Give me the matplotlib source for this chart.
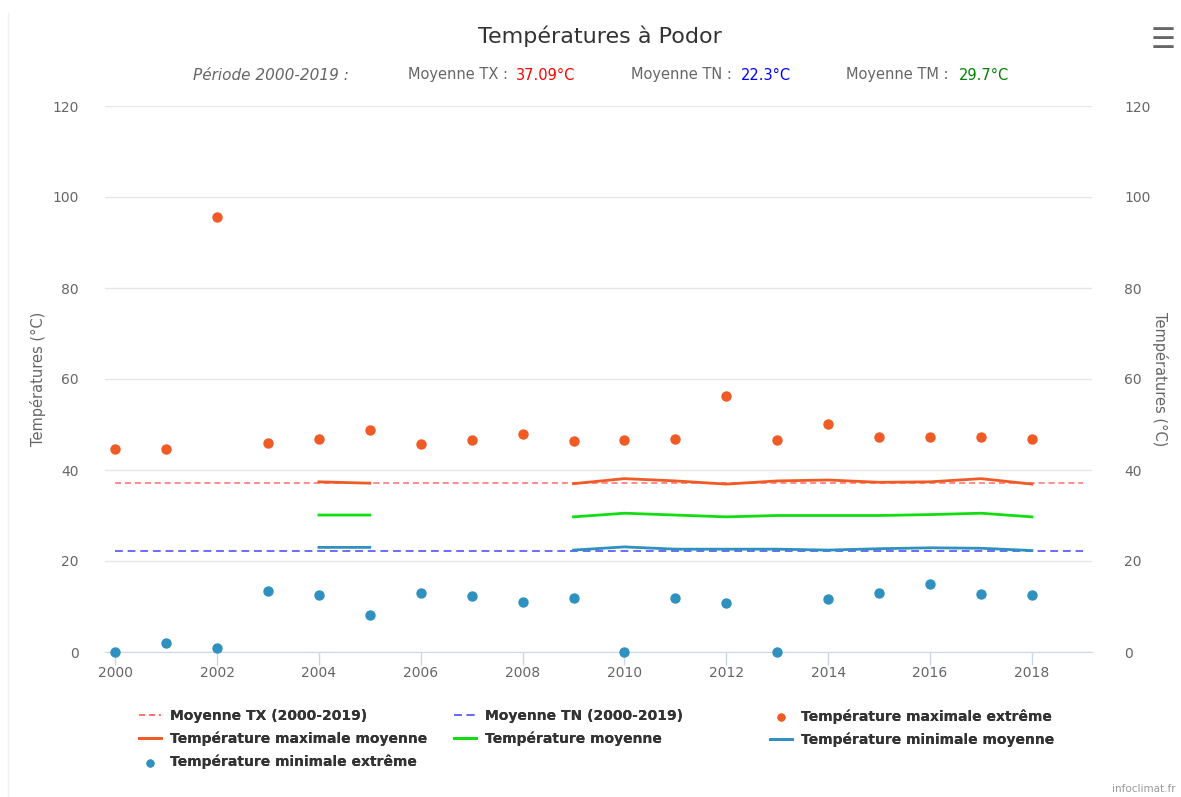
import numpy as np
import matplotlib
matplotlib.use('Agg')
import matplotlib.pyplot as plt
from matplotlib.lines import Line2D

# donnees
annees = list(range(2000, 2019))
tx_extreme = [44.6, 44.6, 95.6, 46.0, 46.8, 48.9, 45.7, 46.5, 48.0, 46.3,
              46.6, 46.8, 56.3, 46.6, 50.1, 47.3, 47.3, 47.3, 46.8]
tn_extreme = [0.0, 2.0, 0.9, 13.3, 12.5, 8.1, 13.0, 12.2, 11.0, 11.9,
              0.0, 11.9, 10.7, 0.0, 11.6, 13.0, 15.0, 12.7, 12.5]

# moyennes annuelles (trous = None)
tx_moy = [None, None, None, None, 37.4, 37.1, None, None, None, 37.0,
          38.1, 37.6, 36.9, 37.6, 37.8, 37.3, 37.4, 38.1, 36.9]
tm_moy = [None, None, None, None, 30.1, 30.1, None, None, None, 29.7,
          30.5, 30.1, 29.7, 30.0, 30.0, 30.0, 30.2, 30.5, 29.7]
tn_moy = [None, None, None, None, 23.0, 23.0, None, None, None, 22.4,
          23.1, 22.6, 22.6, 22.6, 22.4, 22.7, 22.9, 22.8, 22.3]

periode = [2000, 2019]
moyenne_tx = 37.09
moyenne_tn = 22.3
moyenne_tm = 29.7

c_max = '#f05a24'
c_min = '#2f91bf'
c_tm = '#11dd11'
c_tx_ref = '#ff6f6f'
c_tn_ref = '#6a6aff'
gris = '#666666'


def en_array(liste):
    return np.array([np.nan if v is None else v for v in liste], dtype=float)


fig = plt.figure(figsize=(11.81, 7.97), dpi=100)
ax = fig.add_axes([105 / 1181, 1 - 652 / 797, (1092 - 105) / 1181, (652 - 106) / 797])

x = np.array(annees)
h_txref, = ax.plot(periode, [moyenne_tx, moyenne_tx], color=c_tx_ref, lw=1.1,
                   ls=(0, (4, 2.5)), zorder=2)
h_tnref, = ax.plot(periode, [moyenne_tn, moyenne_tn], color=c_tn_ref, lw=1.4,
                   ls=(0, (4, 2.5)), zorder=2)
h_txmoy, = ax.plot(x, en_array(tx_moy), color=c_max, lw=2, zorder=3)
h_tm, = ax.plot(x, en_array(tm_moy), color=c_tm, lw=2, zorder=3)
h_tnmoy, = ax.plot(x, en_array(tn_moy), color=c_min, lw=2, zorder=3)
h_txext = ax.scatter(x, tx_extreme, s=42, color=c_max, zorder=4, clip_on=False)
h_tnext = ax.scatter(x, tn_extreme, s=42, color=c_min, zorder=4, clip_on=False)

ax.set_xlim(1999.8, 2019.18)
ax.set_ylim(0, 120)
ax.set_yticks(range(0, 121, 20))
ax.set_xticks(range(2000, 2019, 2))
ax.grid(axis='y', color='#e6e6e6', lw=1)
ax.set_axisbelow(True)
for s in ['top', 'right', 'left']:
    ax.spines[s].set_visible(False)
ax.spines['bottom'].set_color('#ccd6eb')
ax.tick_params(axis='x', colors='#ccd6eb', length=9, width=1, labelcolor=gris,
               labelsize=10, pad=1)
ax.tick_params(axis='y', length=0, labelcolor=gris, labelsize=10, pad=19)
ax.set_ylabel('Températures (°C)', color=gris, fontsize=10.5)
ax.yaxis.set_label_coords(-0.06, 0.5)

ax2 = ax.twinx()
ax2.set_ylim(0, 120)
ax2.set_yticks(range(0, 121, 20))
for s in ax2.spines.values():
    s.set_visible(False)
ax2.tick_params(axis='y', length=0, labelcolor=gris, labelsize=10, pad=23)
ax2.set_ylabel('Températures (°C)', color=gris, fontsize=10.5, rotation=-90,
               va='center')
ax2.yaxis.set_label_coords(1.069, 0.5)

# titre et sous-titre
fig.text(0.508, 1 - 36 / 797, 'Températures à Podor', ha='center', va='center',
         fontsize=16, color='#333333')
y_sub = 1 - 75 / 797
fig.text(193 / 1181, y_sub, 'Période 2000-2019 :', fontsize=11, style='italic',
         color=gris, va='center')
fig.text(408 / 1181, y_sub, 'Moyenne TX : ', fontsize=10.5, color=gris, va='center')
fig.text(516 / 1181, y_sub, f'{moyenne_tx}°C', fontsize=10.5, color='red', va='center')
fig.text(631 / 1181, y_sub, 'Moyenne TN : ', fontsize=10.5, color=gris, va='center')
fig.text(741 / 1181, y_sub, f'{moyenne_tn}°C', fontsize=10.5, color='blue', va='center')
fig.text(846 / 1181, y_sub, 'Moyenne TM : ', fontsize=10.5, color=gris, va='center')
fig.text(959 / 1181, y_sub, f'{moyenne_tm}°C', fontsize=10.5, color='green', va='center')

# legende en 3 colonnes
colonnes = [
    ([h_txref, h_txmoy, h_tnext],
     ['Moyenne TX (2000-2019)', 'Température maximale moyenne',
      'Température minimale extrême'], 139),
    ([h_tnref, h_tm],
     ['Moyenne TN (2000-2019)', 'Température moyenne'], 454),
    ([h_txext, h_tnmoy],
     ['Température maximale extrême', 'Température minimale moyenne'], 770),
]
for hs, labs, xpx in colonnes:
    leg = fig.legend(hs, labs, loc='upper left', bbox_to_anchor=(xpx / 1181, 1 - 709 / 797),
                     frameon=False, handlelength=1.6, handletextpad=0.6,
                     labelspacing=0.62, borderaxespad=0, borderpad=0,
                     prop={'weight': 'bold', 'size': 10}, labelcolor='#333333',
                     markerscale=0.75)
    fig.add_artist(leg)

fig.text(1176 / 1181, 1 - 789 / 797, 'infoclimat.fr', ha='right', va='center',
         fontsize=7.5, color='#999999')
fig.text(1163 / 1181, 1 - 40 / 797, '☰', ha='center', va='center', fontsize=20,
         color=gris)
fig.add_artist(Line2D([8 / 1181, 8 / 1181], [0, 1 - 13 / 797], color='#eef0f6',
                      lw=1, transform=fig.transFigure))

fig.savefig('out.png', dpi=100)
